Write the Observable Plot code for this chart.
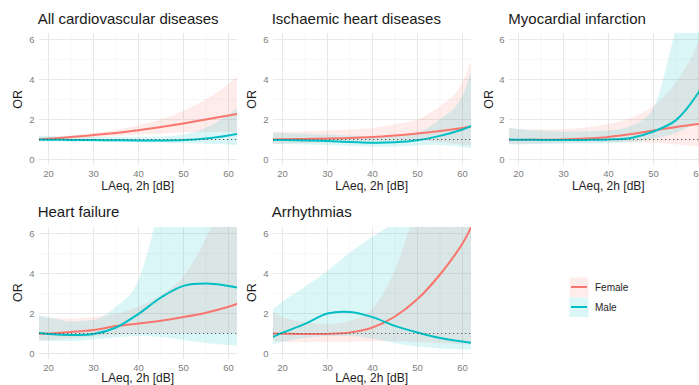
<!DOCTYPE html>
<html>
<head>
<meta charset="utf-8">
<script src="https://cdn.jsdelivr.net/npm/d3@7"></script>
<script src="https://cdn.jsdelivr.net/npm/@observablehq/plot@0.6"></script>
<style>
  html, body { margin: 0; padding: 0; background: #fff; }
  #chart { position: relative; width: 699px; height: 385px; overflow: hidden; background: #fff;
           font-family: "Liberation Sans", Arial, sans-serif; }
  #chart > svg, #chart > figure { position: absolute; margin: 0; }
</style>
</head>
<body>
<div id="chart"></div>
<script>
// ---------- data ----------
const LAeq = [18, 20, 25, 30, 35, 40, 45, 50, 55, 60, 62];
const panelTitles = ["All cardiovascular diseases", "Ischaemic heart diseases", "Myocardial infarction", "Heart failure", "Arrhythmias"];
const sexes = ["Female", "Male"];
const xTicks = [20, 30, 40, 50, 60];
const yTicks = [0, 2, 4, 6];

// All cardiovascular diseases
const cvdFemaleEst = [1.00, 1.04, 1.12, 1.22, 1.33, 1.46, 1.62, 1.80, 2.00, 2.20, 2.28];
const cvdFemaleLo  = [0.90, 0.95, 1.02, 1.08, 1.15, 1.22, 1.28, 1.33, 1.35, 1.35, 1.33];
const cvdFemaleHi  = [1.13, 1.10, 1.17, 1.30, 1.45, 1.67, 1.97, 2.40, 2.97, 3.72, 4.14];
const cvdMaleEst   = [1.00, 0.99, 0.98, 0.97, 0.96, 0.95, 0.95, 0.97, 1.05, 1.20, 1.28];
const cvdMaleLo    = [0.87, 0.87, 0.86, 0.85, 0.84, 0.83, 0.81, 0.79, 0.76, 0.73, 0.70];
const cvdMaleHi    = [1.18, 1.15, 1.12, 1.10, 1.10, 1.10, 1.12, 1.22, 1.55, 2.20, 2.55];

// Ischaemic heart diseases
const ihdFemaleEst = [1.00, 1.01, 1.03, 1.05, 1.08, 1.12, 1.20, 1.30, 1.43, 1.58, 1.65];
const ihdFemaleLo  = [0.75, 0.77, 0.80, 0.83, 0.86, 0.90, 0.93, 0.92, 0.85, 0.72, 0.68];
const ihdFemaleHi  = [1.38, 1.36, 1.38, 1.42, 1.47, 1.55, 1.72, 1.97, 2.63, 3.80, 4.90];
const ihdMaleEst   = [0.98, 0.97, 0.95, 0.92, 0.88, 0.84, 0.86, 0.96, 1.18, 1.50, 1.68];
const ihdMaleLo    = [0.76, 0.75, 0.73, 0.70, 0.66, 0.62, 0.63, 0.68, 0.70, 0.60, 0.55];
const ihdMaleHi    = [1.33, 1.30, 1.26, 1.22, 1.17, 1.13, 1.18, 1.32, 1.97, 3.13, 4.40];

// Myocardial infarction
const miFemaleEst = [0.97, 0.98, 0.99, 1.00, 1.05, 1.13, 1.27, 1.45, 1.63, 1.78, 1.84];
const miFemaleLo  = [0.75, 0.76, 0.78, 0.80, 0.83, 0.85, 0.84, 0.80, 0.74, 0.64, 0.60];
const miFemaleHi  = [1.55, 1.50, 1.47, 1.50, 1.58, 1.75, 2.05, 2.65, 3.80, 5.80, 7.00];
const miMaleEst   = [1.00, 0.99, 0.98, 0.98, 0.98, 1.00, 1.08, 1.40, 1.97, 3.35, 4.20];
const miMaleLo    = [0.72, 0.73, 0.75, 0.76, 0.77, 0.79, 0.85, 1.00, 1.30, 1.85, 2.10];
const miMaleHi    = [1.55, 1.50, 1.42, 1.38, 1.38, 1.42, 1.65, 2.50, 6.40, 10.0, 12.0];

// Heart failure
const hfFemaleEst = [0.99, 1.00, 1.08, 1.18, 1.37, 1.50, 1.64, 1.82, 2.04, 2.34, 2.49];
const hfFemaleLo  = [0.60, 0.65, 0.72, 0.82, 0.92, 0.98, 1.00, 1.00, 1.00, 1.00, 1.00];
const hfFemaleHi  = [1.85, 1.75, 1.72, 1.80, 1.95, 2.30, 2.90, 3.80, 5.70, 8.50, 10.0];
const hfMaleEst   = [1.03, 0.98, 0.93, 0.97, 1.30, 1.98, 2.80, 3.38, 3.50, 3.38, 3.30];
const hfMaleLo    = [0.62, 0.60, 0.60, 0.68, 0.78, 0.85, 0.80, 0.65, 0.50, 0.40, 0.37];
const hfMaleHi    = [1.90, 1.80, 1.58, 1.65, 2.30, 3.60, 7.50, 12.0, 14.0, 14.0, 14.0];

// Arrhythmias
const arFemaleEst = [1.00, 0.99, 0.97, 0.98, 1.05, 1.30, 1.85, 2.72, 3.95, 5.50, 6.35];
const arFemaleLo  = [0.60, 0.58, 0.55, 0.55, 0.56, 0.60, 0.60, 0.55, 0.50, 0.45, 0.43];
const arFemaleHi  = [2.00, 1.80, 1.55, 1.45, 1.60, 2.20, 4.10, 7.50, 12.0, 20.0, 25.0];
const arMaleEst   = [0.84, 1.04, 1.48, 2.00, 2.08, 1.82, 1.38, 1.05, 0.78, 0.60, 0.53];
const arMaleLo    = [0.45, 0.55, 0.75, 0.85, 0.85, 0.72, 0.50, 0.32, 0.23, 0.18, 0.17];
const arMaleHi    = [2.20, 2.55, 3.30, 4.10, 5.00, 5.80, 6.50, 7.20, 8.00, 9.00, 9.50];

const panelSeries = [
  [[cvdFemaleEst, cvdFemaleLo, cvdFemaleHi], [cvdMaleEst, cvdMaleLo, cvdMaleHi]],
  [[ihdFemaleEst, ihdFemaleLo, ihdFemaleHi], [ihdMaleEst, ihdMaleLo, ihdMaleHi]],
  [[miFemaleEst, miFemaleLo, miFemaleHi], [miMaleEst, miMaleLo, miMaleHi]],
  [[hfFemaleEst, hfFemaleLo, hfFemaleHi], [hfMaleEst, hfMaleLo, hfMaleHi]],
  [[arFemaleEst, arFemaleLo, arFemaleHi], [arMaleEst, arMaleLo, arMaleHi]]
];

// ---------- layout / style ----------
const colors = {Female: "#F8766D", Male: "#00BFC4"};
const ribbonOpacity = 0.14;
const colLefts = [38.7, 272.7, 509.3];
const rowTops = [33.3, 226.7];
const xLabelOffsets = [24.8, 23.6];
const plotW = 198, plotH = 132;
const mL = 38, mR = 4, mT = 4, mB = 22;
const font = '"Liberation Sans", Arial, sans-serif';

const chart = document.getElementById("chart");

function makePanel(series) {
  const rows = [];
  sexes.forEach((s, si) => {
    const [est, lo, hi] = series[si];
    LAeq.forEach((x, i) => rows.push({sex: s, x, est: est[i], lo: lo[i], hi: hi[i]}));
  });
  const bySex = s => rows.filter(d => d.sex === s);
  return Plot.plot({
    width: plotW + mL + mR,
    height: plotH + mT + mB,
    marginLeft: mL, marginRight: mR, marginTop: mT, marginBottom: mB,
    style: {fontSize: "9.5px", fontFamily: font, color: "#7d7d7d", background: "transparent", overflow: "visible"},
    x: {domain: [18, 62], ticks: xTicks, tickSize: 0, tickPadding: 4.3, tickFormat: d => String(d), label: null},
    y: {domain: [-0.3, 6.3], ticks: yTicks, tickSize: 0, tickPadding: 5, tickFormat: d => String(d), label: null},
    marks: [
      Plot.ruleX([25, 35, 45, 55], {stroke: "#f3f3f3", strokeWidth: 0.7}),
      Plot.ruleY([1, 3, 5], {stroke: "#f3f3f3", strokeWidth: 0.7}),
      Plot.ruleX(xTicks, {stroke: "#e8e8e8", strokeWidth: 1}),
      Plot.ruleY(yTicks, {stroke: "#e8e8e8", strokeWidth: 1}),
      ...sexes.map(s => Plot.areaY(bySex(s), {x: "x", y1: "lo", y2: "hi", fill: colors[s], fillOpacity: ribbonOpacity, curve: "monotone-x", clip: true})),
      ...sexes.map(s => Plot.line(bySex(s), {x: "x", y: "est", stroke: colors[s], strokeWidth: 2, curve: "catmull-rom", clip: true})),
      Plot.ruleY([1], {stroke: "#4a4a4a", strokeWidth: 0.9, strokeDasharray: "1.2,2.8"})
    ]
  });
}

panelSeries.forEach((series, p) => {
  const col = p % 3, row = Math.floor(p / 3);
  const svg = makePanel(series);
  svg.style.left = (colLefts[col] - mL) + "px";
  svg.style.top = (rowTops[row] - mT) + "px";
  chart.appendChild(svg);
});

// ---------- text overlay (titles, axis titles, legend) ----------
const overlay = d3.create("svg")
  .attr("width", 699).attr("height", 385)
  .style("left", "0px").style("top", "0px")
  .style("pointer-events", "none")
  .style("font-family", font);

panelTitles.forEach((t, p) => {
  const col = p % 3, row = Math.floor(p / 3);
  const L = colLefts[col], T = rowTops[row];
  overlay.append("text").attr("x", L - 1).attr("y", T - 9.3)
    .attr("font-size", 15).attr("fill", "#1a1a1a").text(t);
  overlay.append("text")
    .attr("transform", `translate(${L - 16.5},${T + plotH / 2}) rotate(-90)`)
    .attr("text-anchor", "middle").attr("font-size", 12.5).attr("fill", "#1e1e1e").text("OR");
  overlay.append("text").attr("x", L + plotW / 2).attr("y", T + plotH + xLabelOffsets[row])
    .attr("text-anchor", "middle").attr("font-size", 12).attr("fill", "#1e1e1e").text("LAeq, 2h [dB]");
});

sexes.forEach((s, i) => {
  const y0 = 277.5 + i * 20;
  overlay.append("rect").attr("x", 569.5).attr("y", y0).attr("width", 19).attr("height", 19.5)
    .attr("fill", colors[s]).attr("fill-opacity", ribbonOpacity);
  overlay.append("line").attr("x1", 571).attr("x2", 587).attr("y1", y0 + 9.5).attr("y2", y0 + 9.5)
    .attr("stroke", colors[s]).attr("stroke-width", 2);
  overlay.append("text").attr("x", 595).attr("y", y0 + 13)
    .attr("font-size", 10).attr("fill", "#1e1e1e").text(s);
});

chart.appendChild(overlay.node());
</script>
</body>
</html>
